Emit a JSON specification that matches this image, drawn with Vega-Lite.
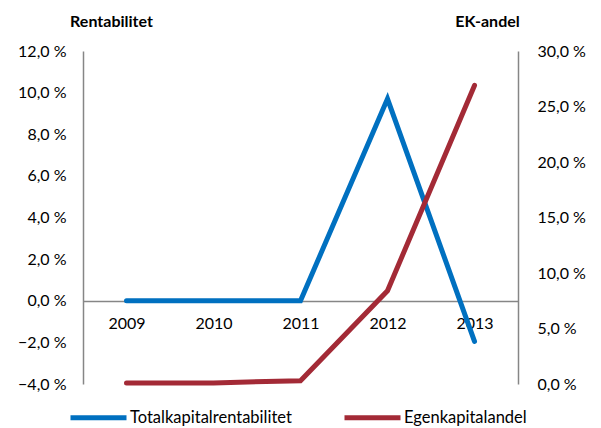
{
  "$schema": "https://vega.github.io/schema/vega-lite/v6.json",
  "width": 435,
  "height": 333,
  "autosize": {"type": "none"},
  "padding": {"left": 83, "top": 51, "right": 83, "bottom": 44},
  "background": "white",
  "config": {
    "view": {"stroke": null},
    "font": "Lato",
    "axis": {"labelFont": "Lato", "titleFont": "Lato", "labelColor": "#000000", "titleColor": "#000000"}
  },
  "data": {
    "values": [
      {"year": "2009", "series": "Totalkapitalrentabilitet", "value": 0.0},
      {"year": "2010", "series": "Totalkapitalrentabilitet", "value": 0.0},
      {"year": "2011", "series": "Totalkapitalrentabilitet", "value": 0.0},
      {"year": "2012", "series": "Totalkapitalrentabilitet", "value": 9.7},
      {"year": "2013", "series": "Totalkapitalrentabilitet", "value": -1.95},
      {"year": "2009", "series": "Egenkapitalandel", "value": 0.1},
      {"year": "2010", "series": "Egenkapitalandel", "value": 0.1},
      {"year": "2011", "series": "Egenkapitalandel", "value": 0.3},
      {"year": "2012", "series": "Egenkapitalandel", "value": 8.4},
      {"year": "2013", "series": "Egenkapitalandel", "value": 26.9}
    ]
  },
  "encoding": {
    "x": {
      "field": "year", "type": "ordinal",
      "scale": {"type": "point", "padding": 0.5},
      "axis": {
        "title": null, "orient": "bottom", "offset": -83,
        "labelAngle": 0, "ticks": false, "labelPadding": 14,
        "labelFontSize": 16, "domainColor": "#868686", "domainWidth": 1.5
      }
    },
    "color": {
      "field": "series", "type": "nominal",
      "scale": {"domain": ["Totalkapitalrentabilitet", "Egenkapitalandel"], "range": ["#0070C0", "#A32A36"]},
      "legend": {
        "title": null, "orient": "none", "direction": "horizontal",
        "legendX": -15, "legendY": 336,
        "symbolType": "stroke", "symbolSize": 3136, "symbolStrokeWidth": 5,
        "labelFontSize": 16.5, "labelFont": "Lato", "labelColor": "#000000", "labelLimit": 400,
        "labelOffset": 1, "columnPadding": 42
      }
    }
  },
  "layer": [
    {
      "transform": [{"filter": "datum.series === 'Totalkapitalrentabilitet'"}],
      "mark": {"type": "line", "strokeWidth": 5, "strokeCap": "round"},
      "encoding": {
        "y": {
          "field": "value", "type": "quantitative",
          "scale": {"domain": [-4, 12], "nice": false, "zero": false},
          "axis": {
            "title": "Rentabilitet", "titleAngle": 0, "titleX": 28, "titleY": -30,
            "titleAlign": "center", "titleBaseline": "middle", "titleFontSize": 16, "titleFontWeight": "bold",
            "values": [-4, -2, 0, 2, 4, 6, 8, 10, 12],
            "labelExpr": "replace(format(datum.value, '.1f'), '.', ',') + ' %'",
            "ticks": false, "grid": false, "labelPadding": 17, "labelFontSize": 16,
            "domainColor": "#868686", "domainWidth": 1.5
          }
        }
      }
    },
    {
      "transform": [{"filter": "datum.series === 'Egenkapitalandel'"}],
      "mark": {"type": "line", "strokeWidth": 5, "strokeCap": "round"},
      "encoding": {
        "y": {
          "field": "value", "type": "quantitative",
          "scale": {"domain": [0, 30], "nice": false},
          "axis": {
            "orient": "right",
            "title": "EK-andel", "titleAngle": 0, "titleX": -31, "titleY": -30,
            "titleAlign": "center", "titleBaseline": "middle", "titleFontSize": 16, "titleFontWeight": "bold",
            "values": [0, 5, 10, 15, 20, 25, 30],
            "labelExpr": "replace(format(datum.value, '.1f'), '.', ',') + ' %'",
            "ticks": false, "grid": false, "labelPadding": 19, "labelFontSize": 16,
            "domainColor": "#868686", "domainWidth": 1.5
          }
        }
      }
    }
  ],
  "resolve": {"scale": {"y": "independent"}}
}
